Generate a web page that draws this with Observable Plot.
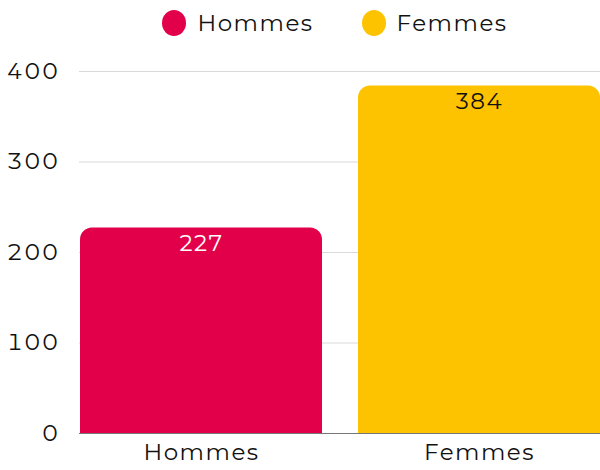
<!DOCTYPE html>
<html><head><meta charset="utf-8">
<script src="https://cdn.jsdelivr.net/npm/d3@7"></script>
<script src="https://cdn.jsdelivr.net/npm/@observablehq/plot@0.6"></script>
<style>
body{margin:0;background:#fff;font-family:Montserrat,"Noto Sans",sans-serif;}
#legend{height:45px;display:flex;justify-content:center;align-items:center;gap:48px;font-size:23px;letter-spacing:1.5px;color:#111;padding-left:70px;box-sizing:border-box;}
#legend span.item{display:flex;align-items:center;gap:11px;}
#legend span.dot{display:inline-block;width:24px;height:26px;border-radius:50%;}
svg text{letter-spacing:1.5px;}
</style></head>
<body>
<div id="legend"></div>
<div id="chart"></div>
<script>
const categories = ["Hommes", "Femmes"];
const values = [227, 384];
const colors = ["#e3004a", "#fdc300"];
const labelColors = ["#ffffff", "#111111"];
const yTicks = [0, 100, 200, 300, 400];

const data = categories.map((c, i) => ({cat: c, value: values[i], color: colors[i], lc: labelColors[i]}));

const lg = document.getElementById("legend");
data.forEach(d => {
  const it = document.createElement("span"); it.className = "item";
  const dot = document.createElement("span"); dot.className = "dot"; dot.style.background = d.color;
  const t = document.createElement("span"); t.textContent = d.cat;
  it.appendChild(dot); it.appendChild(t); lg.appendChild(it);
});

const chart = Plot.plot({
  width: 600, height: 425,
  marginLeft: 79, marginRight: 0, marginTop: 26, marginBottom: 37,
  style: {fontFamily: 'Montserrat, "Noto Sans", sans-serif', fontSize: "23px", color: "#111", background: "#fff"},
  x: {domain: categories, paddingInner: 0.13, paddingOuter: 0, label: null, tickSize: 0, tickPadding: 10},
  y: {domain: [0, 400], ticks: yTicks, label: null, tickSize: 0, tickPadding: 20},
  marks: [
    Plot.gridY(yTicks, {stroke: "#d9d9d9", strokeOpacity: 1, strokeWidth: 1}),
    Plot.ruleY([0], {stroke: "#777"}),
    Plot.barY(data, {x: "cat", y: "value", fill: "color", ry1: 12}),
    Plot.text(data, {x: "cat", y: "value", text: d => String(d.value), fill: "lc", dy: 16, fontSize: 23})
  ]
});
document.getElementById("chart").appendChild(chart);
</script>
</body></html>
